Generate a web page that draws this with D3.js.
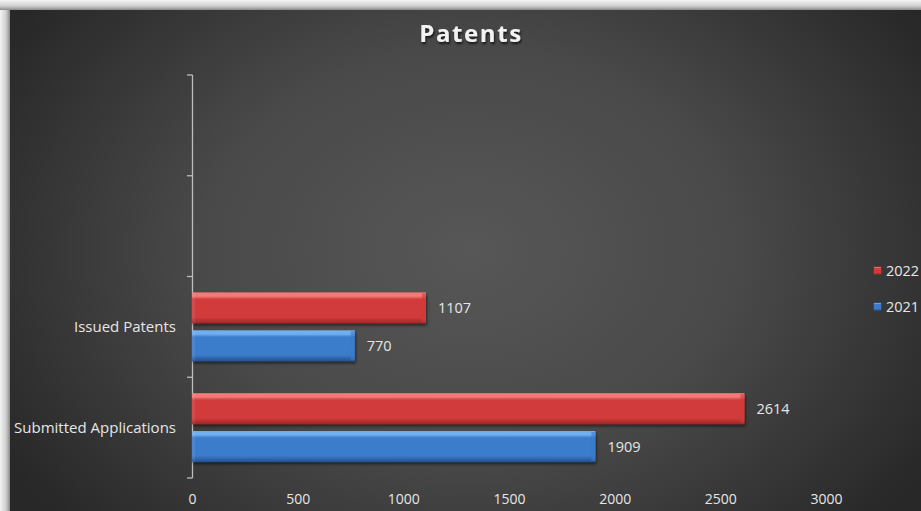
<!DOCTYPE html>
<html><head><meta charset="utf-8">
<script src="https://cdn.jsdelivr.net/npm/d3@7"></script>
<style>html,body{margin:0;padding:0;background:#fff;overflow:hidden}</style>
</head><body>
<svg id="c" width="921" height="511"></svg>
<script>
// Data
const categories = ["Submitted Applications", "Issued Patents", "", ""];
const series = ["2022", "2021"];
const values2022 = [2614, 1107, null, null];
const values2021 = [1909, 770, null, null];
const xTicks = [0, 500, 1000, 1500, 2000, 2500, 3000];
const title = "Patents";

const svg = d3.select("#c");
const W = 921, H = 511;
const defs = svg.append("defs");
const FONT = "Open Sans, sans-serif";

// frame shadow gradients
const lg = defs.append("linearGradient").attr("id","edgeL").attr("x1","0").attr("x2","1").attr("y1","0").attr("y2","0");
lg.append("stop").attr("offset","0").attr("stop-color","#f4f4f4");
lg.append("stop").attr("offset","0.6").attr("stop-color","#cfcfcf");
lg.append("stop").attr("offset","1").attr("stop-color","#8a8a8a");
const tg = defs.append("linearGradient").attr("id","edgeT").attr("x1","0").attr("x2","0").attr("y1","0").attr("y2","1");
tg.append("stop").attr("offset","0").attr("stop-color","#f4f4f4");
tg.append("stop").attr("offset","0.6").attr("stop-color","#cfcfcf");
tg.append("stop").attr("offset","1").attr("stop-color","#8a8a8a");

const bg = defs.append("radialGradient").attr("id","bg")
  .attr("gradientUnits","userSpaceOnUse").attr("cx",470).attr("cy",250).attr("r",540)
  .attr("gradientTransform","translate(470,250) scale(1,0.75) translate(-470,-250)");
bg.append("stop").attr("offset","0").attr("stop-color","#575757");
bg.append("stop").attr("offset","0.5").attr("stop-color","#494949");
bg.append("stop").attr("offset","1").attr("stop-color","#282828");

svg.append("rect").attr("x",0).attr("y",0).attr("width",W).attr("height",H).attr("fill","#f2f2f2");
svg.append("rect").attr("x",0).attr("y",0).attr("width",10).attr("height",H).attr("fill","url(#edgeL)");
svg.append("rect").attr("x",0).attr("y",0).attr("width",W).attr("height",10).attr("fill","url(#edgeT)");
svg.append("rect").attr("x",10).attr("y",10).attr("width",W-10).attr("height",H-10).attr("fill","url(#bg)");

// bar gradients
function barGrad(id, light, mid, dark) {
  const g = defs.append("linearGradient").attr("id",id).attr("x1","0").attr("x2","0").attr("y1","0").attr("y2","1");
  g.append("stop").attr("offset","0").attr("stop-color",light);
  g.append("stop").attr("offset","0.12").attr("stop-color",light);
  g.append("stop").attr("offset","0.22").attr("stop-color",mid);
  g.append("stop").attr("offset","0.8").attr("stop-color",mid);
  g.append("stop").attr("offset","1").attr("stop-color",dark);
}
barGrad("gRed", "#f47a78", "#d23b3b", "#9e2626");
barGrad("gBlue", "#6fb0f0", "#3b7bcb", "#24508c");
const colorGrad = {"2022":"url(#gRed)", "2021":"url(#gBlue)"};
const colorSolid = {"2022":"#d23b3b", "2021":"#3b7bcb"};

const shadow = defs.append("filter").attr("id","sh").attr("x","-10%").attr("y","-30%").attr("width","130%").attr("height","180%");
shadow.append("feDropShadow").attr("dx",1).attr("dy",2).attr("stdDeviation",1.5).attr("flood-color","#000").attr("flood-opacity",0.55);
const tsh = defs.append("filter").attr("id","tsh");
tsh.append("feDropShadow").attr("dx",1).attr("dy",2).attr("stdDeviation",1.2).attr("flood-color","#000").attr("flood-opacity",0.7);

// scales
const x = d3.scaleLinear().domain([0, 3000]).range([192, 826]);
const y = d3.scaleBand().domain(d3.range(categories.length)).range([478, 75]).paddingInner(0).paddingOuter(0);
const inner = d3.scaleBand().domain(series).range([0, y.bandwidth()]).paddingInner(0.18).paddingOuter(0.42);

// title
svg.append("text").attr("x",471).attr("y",42).attr("text-anchor","middle")
  .attr("font-family",FONT).attr("font-weight","bold").attr("font-size",24)
  .attr("letter-spacing",1.6).attr("fill","#f2f2f2").attr("filter","url(#tsh)").text(title);

// y axis
const ag = svg.append("g");
ag.append("line").attr("x1",192.5).attr("x2",192.5).attr("y1",y.range()[1]).attr("y2",y.range()[0]).attr("stroke","#bdbdbd").attr("stroke-width",1.3);
[...d3.range(categories.length).map(i => y(i)+y.bandwidth()), y(categories.length-1)].forEach(v => {
  ag.append("line").attr("x1",187).attr("x2",192.5).attr("y1",v).attr("y2",v).attr("stroke","#bdbdbd").attr("stroke-width",1.3);
});

// category labels
svg.append("g").selectAll("text").data(categories).join("text")
  .attr("x",176).attr("y",(d,i)=>y(i)+y.bandwidth()/2).attr("dy","0.35em").attr("text-anchor","end")
  .attr("font-family",FONT).attr("font-size",15).attr("fill","#e6e6e6").text(d=>d);

// x tick labels
const xAxis = d3.axisBottom(x).tickValues(xTicks).tickFormat(d3.format("d")).tickSize(0).tickPadding(0);
const xg = svg.append("g").attr("transform","translate(0,499)").call(xAxis);
xg.select(".domain").remove();
xg.selectAll("text").attr("font-family",FONT).attr("font-size",14).attr("fill","#e6e6e6").attr("dy","0.35em").attr("y",0);

// bars
const rows = [];
categories.forEach((c,i)=>{
  [["2022",values2022[i]],["2021",values2021[i]]].forEach(([s,v])=>{ if(v!=null) rows.push({i,s,v}); });
});
const bars = svg.append("g");
bars.selectAll("rect.bar").data(rows).join("rect").attr("class","bar")
  .attr("x",x(0)).attr("y",d=>y(d.i)+inner(d.s)).attr("width",d=>x(d.v)-x(0)).attr("height",inner.bandwidth())
  .attr("fill",d=>colorGrad[d.s]).attr("filter","url(#sh)");
bars.selectAll("rect.end").data(rows).join("rect").attr("class","end")
  .attr("x",d=>x(d.v)-4).attr("y",d=>y(d.i)+inner(d.s)+1).attr("width",4).attr("height",inner.bandwidth()-2)
  .attr("fill",d=>colorSolid[d.s]).attr("opacity",0.6);
bars.selectAll("rect.st").data(rows).join("rect").attr("class","st")
  .attr("x",x(0)).attr("y",d=>y(d.i)+inner(d.s)).attr("width",3).attr("height",inner.bandwidth())
  .attr("fill","#fff").attr("opacity",0.08);

// value labels
svg.append("g").selectAll("text").data(rows).join("text")
  .attr("x",d=>x(d.v)+12).attr("y",d=>y(d.i)+inner(d.s)+inner.bandwidth()/2).attr("dy","0.35em")
  .attr("font-family",FONT).attr("font-size",14.5).attr("fill","#e6e6e6").text(d=>d.v);

// legend
const lgG = svg.append("g");
series.forEach((s,k)=>{
  const ly = 271 + k*36;
  lgG.append("rect").attr("x",874).attr("y",ly-4).attr("width",7).attr("height",7).attr("fill",colorGrad[s]).attr("stroke",colorSolid[s]).attr("stroke-width",0.5);
  lgG.append("text").attr("x",886).attr("y",ly).attr("dy","0.35em").attr("font-family",FONT).attr("font-size",14.5).attr("fill","#e6e6e6").text(s);
});
</script>
</body></html>
